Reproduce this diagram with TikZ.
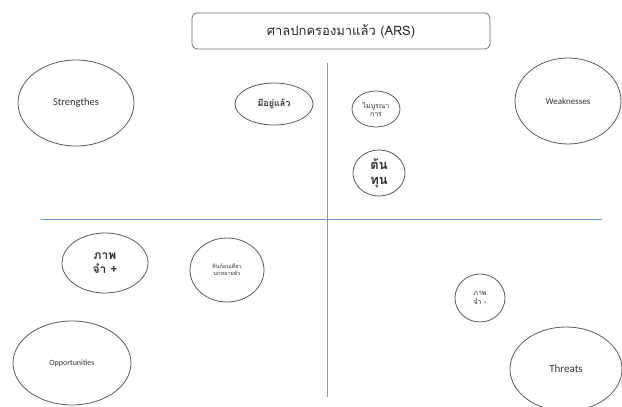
\documentclass[tikz,border=0pt]{standalone}
\usepackage{fontspec}
\setmainfont{Carlito}
\newfontfamily\thai[Script=Thai]{Loma}
\definecolor{axisblue}{RGB}{112,155,220}
\definecolor{ovalgray}{RGB}{90,90,90}
\definecolor{txtgray}{RGB}{50,50,50}
\begin{document}
\begin{tikzpicture}[x=1pt,y=-1pt,
  ov/.style={draw=ovalgray, line width=0.8pt},
  axis/.style={draw=axisblue, line width=0.8pt},
  every node/.style={align=center, text=txtgray}]
\useasboundingbox (0,0) rectangle (622,407);
\clip (0,0) rectangle (622,407);
% title
\node[draw=black!60, rounded corners=5pt, line width=0.7pt, minimum width=298pt, minimum height=36pt, text=black!85, font=\thai\fontsize{13}{15}\selectfont] (title) at (341,31) {ศาลปกครองมาแล้ว (ARS)};
% axes
\coordinate (vt) at (327,63);
\coordinate (vb) at (327,397);
\coordinate (hl) at (41,219);
\coordinate (hr) at (602,219);
\draw[axis] (vt) -- (vb);
\draw[axis] (hl) -- (hr);
% ovals
\draw[ov] (76,103) ellipse [x radius=58, y radius=43];
\node[font=\fontsize{10.5}{12}\selectfont] (s) at (76,103) {Strengthes};
\draw[ov] (568,101) ellipse [x radius=53, y radius=43];
\node[font=\fontsize{9}{11}\selectfont] (w) at (568,101) {Weaknesses};
\draw[ov] (72,363) ellipse [x radius=59, y radius=42];
\node[font=\fontsize{8}{10}\selectfont] (o) at (72,363) {Opportunities};
\draw[ov] (566,369) ellipse [x radius=56, y radius=42];
\node[font=\fontsize{11}{13}\selectfont] (t) at (566,369) {Threats};
\draw[ov] (274,104) ellipse [x radius=39, y radius=21];
\node[font=\thai\bfseries\fontsize{9}{11}\selectfont] (a) at (274,104) {มีอยู่แล้ว};
\draw[ov] (376,109) ellipse [x radius=24, y radius=18];
\node[font=\thai\fontsize{7}{8}\selectfont] (b) at (376,109) {ไม่บูรณา\\การ};
\draw[ov] (379,173) ellipse [x radius=26, y radius=23];
\node[font=\thai\bfseries\fontsize{13}{15}\selectfont] (c) at (379,173) {ต้น\\ทุน};
\draw[ov] (105,263) ellipse [x radius=43, y radius=30];
\node[font=\thai\bfseries\fontsize{12}{14}\selectfont] (d) at (105,263) {ภาพ\\จำ +};
\draw[ov] (227,270) ellipse [x radius=37, y radius=32];
\node[font=\thai\fontsize{5.5}{7}\selectfont] (e) at (227,270) {หินก้อนเดียว\\นกหลายตัว};
\draw[ov] (480,298) ellipse [x radius=25, y radius=24];
\node[font=\thai\fontsize{7}{9}\selectfont] (f) at (480,298) {ภาพ\\จำ -};
\end{tikzpicture}
\end{document}
